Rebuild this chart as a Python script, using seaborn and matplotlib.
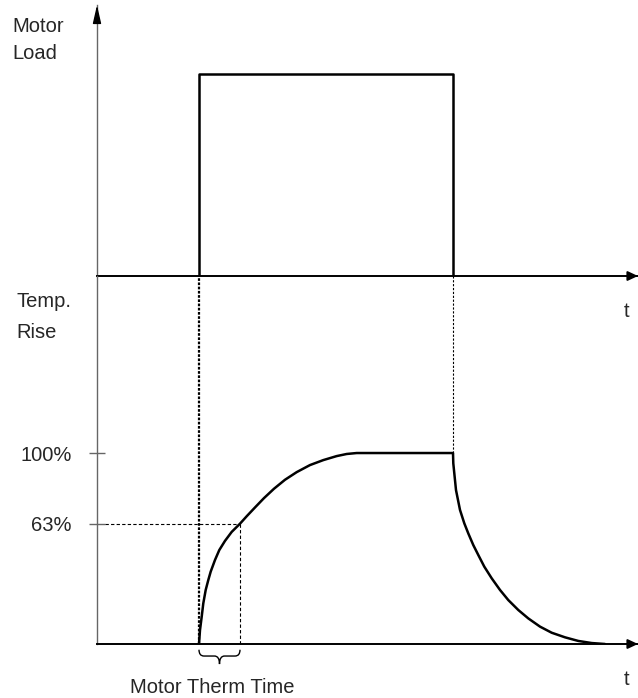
import numpy as np
import pandas as pd
import matplotlib
matplotlib.use("Agg")
import matplotlib.pyplot as plt
from matplotlib.path import Path
from matplotlib.patches import PathPatch
import seaborn as sns

# time in arbitrary units (one unit = 10 px on the original drawing)
t_max = 54.1
t_on = 10.2
t_off = 35.6
t_63 = 14.3

# motor load pulse, per unit
load_t = [t_on, t_on, t_off, t_off]
load_val = [0, 1, 1, 0]
load_max = 1.34

# temperature rise, % of final value
rise_t = [10.2, 10.3, 10.47, 10.63, 10.87, 11.13, 11.37, 11.8, 12.23, 12.8, 13.47,
          14.3, 14.97, 15.8, 16.7, 17.7, 18.8, 19.97, 21.3, 22.63, 23.97, 24.97,
          25.97, 35.6]
rise_pct = [0, 7.3, 14.3, 21.3, 28.3, 33.5, 37.9, 44.0, 49.2, 54.0, 58.7,
            63, 66.9, 71.5, 76.4, 81.3, 86.0, 90.0, 93.7, 96.3, 98.4, 99.5,
            100, 100]
fall_t = [35.6, 35.63, 35.73, 35.9, 36.3, 36.73, 37.13, 37.63, 38.13, 38.73, 39.47,
          40.3, 41.13, 42.13, 43.13, 44.3, 45.47, 46.8, 48.13, 49.47, 50.8]
fall_pct = [100, 94.6, 89.4, 80.6, 70.2, 63.2, 57.9, 51.8, 46.6, 40.5, 34.4,
            28.3, 23.0, 17.8, 13.4, 9.1, 5.9, 3.5, 1.6, 0.5, 0]
temp_max = 192.7

tick_vals = [63, 100]
tick_labels = ["63%", "100%"]

load_df = pd.DataFrame({"t": load_t, "load": load_val})
temp_df = pd.DataFrame({"t": rise_t + fall_t[1:], "temp": rise_pct + fall_pct[1:]})

sns.set_style("white")
plt.rcParams["font.family"] = ["Liberation Sans", "DejaVu Sans"]
fs = 14.5

W, H = 638, 698
def px(x, y):
    return x / W, 1 - y / H

fig = plt.figure(figsize=(6.38, 6.98), dpi=100)
ax_top = fig.add_axes([97 / W, (H - 276) / H, 541 / W, 271 / H])
ax_bot = fig.add_axes([97 / W, (H - 644) / H, 541 / W, 368 / H])

#motor load pulse
sns.lineplot(data=load_df, x="t", y="load", sort=False, estimator=None,
             color="black", lw=1.8, ax=ax_top)
ax_top.set_xlim(0, t_max)
ax_top.set_ylim(0, load_max)

#temperature rise curve
sns.lineplot(data=temp_df, x="t", y="temp", sort=False, estimator=None,
             color="black", lw=1.8, ax=ax_bot)
ax_bot.set_xlim(0, t_max)
ax_bot.set_ylim(0, temp_max)

# guide lines
ax_bot.vlines(t_on, 0, temp_max, color="black", lw=1.6, linestyles=[(0, (1.2, 0.7))])
ax_bot.vlines(t_off, 100, temp_max, color="black", lw=0.8, linestyles=[(0, (2, 1.5))])
ax_bot.hlines(63, 0.85, t_63, color="black", lw=0.8, linestyles=[(0, (3, 2))])
ax_bot.vlines(t_63, 0, 63, color="black", lw=0.8, linestyles=[(0, (3, 2))])

# brace under the thermal time constant
mid = (t_on + t_63) / 2
verts = [(t_on, -3), (t_on, -6.3), (t_on + 0.5, -6.3), (mid - 0.5, -6.3),
         (mid, -6.3), (mid, -10.5), (mid, -6.3), (mid + 0.5, -6.3),
         (t_63 - 0.5, -6.3), (t_63, -6.3), (t_63, -3)]
codes = [Path.MOVETO, Path.CURVE3, Path.CURVE3, Path.LINETO,
         Path.CURVE3, Path.CURVE3, Path.CURVE3, Path.CURVE3,
         Path.LINETO, Path.CURVE3, Path.CURVE3]
ax_bot.add_patch(PathPatch(Path(verts, codes), fill=False, lw=1, color="black", clip_on=False))

for ax in (ax_top, ax_bot):
    ax.set_facecolor("none")
    ax.spines[["top", "right"]].set_visible(False)
    ax.spines["left"].set_color("#666666")
    ax.spines["left"].set_linewidth(1)
    ax.spines["bottom"].set_color("black")
    ax.spines["bottom"].set_linewidth(1.4)
    ax.set_xlabel("")
    ax.set_ylabel("")
    ax.set_xticks([])
    ax.annotate("", xy=(1, 0), xytext=(0.98, 0), xycoords="axes fraction",
                arrowprops=dict(arrowstyle="-|>,head_length=0.6,head_width=0.28",
                                color="black", lw=1.4, shrinkA=0, shrinkB=0,
                                mutation_scale=10),
                annotation_clip=False)

ax_top.set_yticks([])
ax_top.annotate("", xy=(0, 1), xytext=(0, 0.95), xycoords="axes fraction",
                arrowprops=dict(arrowstyle="-|>,head_length=1.1,head_width=0.25",
                                color="black", lw=1, shrinkA=0, shrinkB=0,
                                mutation_scale=10),
                annotation_clip=False)

ax_bot.set_yticks(tick_vals, tick_labels)
ax_bot.tick_params(axis="y", direction="inout", length=11.5, width=1,
                   color="#666666", pad=12.3, labelsize=fs, left=True)

# labels
fig.text(*px(12, 32.3), "Motor", fontsize=fs, va="baseline", ha="left")
fig.text(*px(12, 59.3), "Load", fontsize=fs, va="baseline", ha="left")
fig.text(*px(16.7, 306.7), "Temp.", fontsize=fs, va="baseline", ha="left")
fig.text(*px(16.7, 337.7), "Rise", fontsize=fs, va="baseline", ha="left")
fig.text(*px(624, 316.7), "t", fontsize=fs, va="baseline", ha="left")
fig.text(*px(624, 685), "t", fontsize=fs, va="baseline", ha="left")
fig.text(*px(212.5, 693.3), "Motor Therm Time", fontsize=fs, va="baseline", ha="center")

fig.savefig("out.png", dpi=100)
